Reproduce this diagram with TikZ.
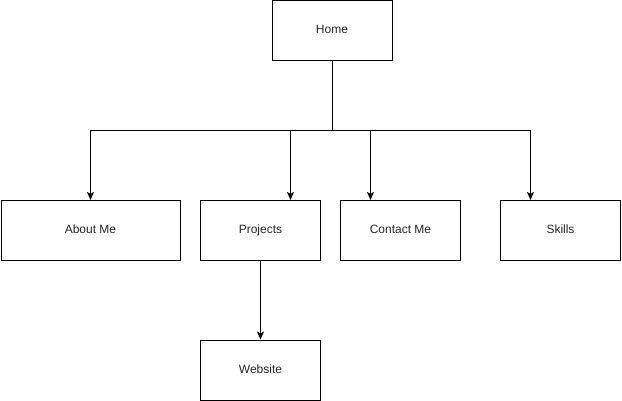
\documentclass[tikz,border=0pt]{standalone}
\usepackage{fontspec}
\setmainfont{Liberation Sans}
\usetikzlibrary{arrows.meta}
\begin{document}
\begin{tikzpicture}[x=1pt,y=-1pt,
  box/.style={draw=black,line width=1pt,fill=white,rectangle,inner sep=0pt,font=\fontsize{12}{14}\selectfont,text=black!85,text height=9pt,text depth=2.5pt},
  conn/.style={draw=black,line width=1pt,-{Stealth[length=8pt,width=7pt,inset=2pt]}}]
\useasboundingbox (0,0) rectangle (622,401);
\node[box,minimum width=120pt,minimum height=60pt] (home) at (332,30.5) {Home};
\node[box,minimum width=179pt,minimum height=60pt] (about) at (90.5,230.5) {About Me};
\node[box,minimum width=120pt,minimum height=60pt] (proj) at (260.5,230.5) {Projects};
\node[box,minimum width=120pt,minimum height=60pt] (contact) at (400.5,230.5) {Contact Me};
\node[box,minimum width=120pt,minimum height=60pt] (skills) at (560.5,230.5) {Skills};
\node[box,minimum width=120pt,minimum height=60pt] (web) at (260.5,370) {Website};
\coordinate (j) at (332.5,130.5);
\draw[line width=1pt] (home.south -| j) -- (j);
\draw[conn] (j) -| (about.north);
\draw[conn] (j) -| ([xshift=30pt]proj.north);
\draw[conn] (j) -| ([xshift=-30pt]contact.north);
\draw[conn] (j) -| ([xshift=-30pt]skills.north);
\draw[conn] (proj.south) -- (web.north);
\end{tikzpicture}
\end{document}
